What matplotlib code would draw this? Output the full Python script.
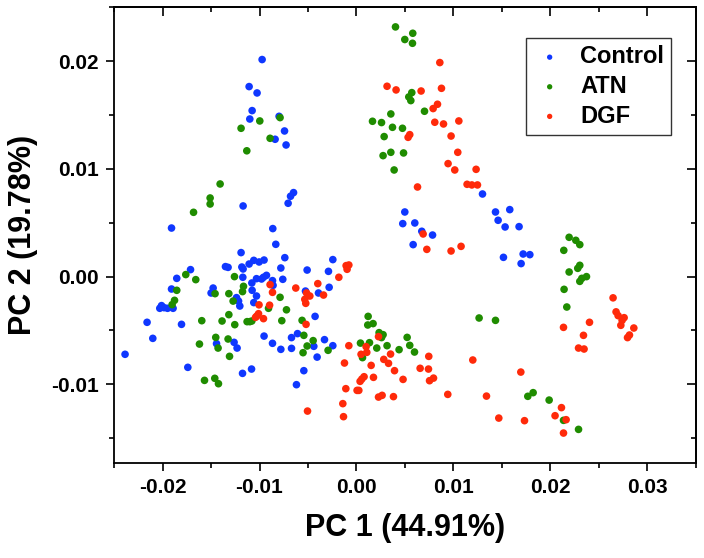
import matplotlib
matplotlib.use("Agg")
import matplotlib.pyplot as plt
from matplotlib.ticker import MultipleLocator, FormatStrFormatter

plt.rcParams['font.family'] = ['Liberation Sans', 'DejaVu Sans']
plt.rcParams['font.weight'] = 'bold'
plt.rcParams['axes.unicode_minus'] = False

series_names = ["Control", "ATN", "DGF"]
series_colors = ["#0f37ff", "#1f8c00", "#ff2a0a"]

control_x = [-0.00973, -0.01107, -0.01025, -0.01076, -0.01100, -0.00798, -0.00742, -0.00839, -0.00726, -0.01169,
             -0.01907, -0.00705, -0.00680, -0.00649, -0.00863, -0.00832, -0.01190, -0.00739, -0.01059, -0.01004,
             -0.00953, -0.01107, -0.01351, -0.01324, -0.01711, -0.01182, -0.01169, -0.00780, -0.00509, -0.00928,
             -0.01172, -0.01031, -0.00979, -0.00959, -0.00866, -0.00760, -0.01853, -0.01079, -0.01907, -0.01478,
             -0.01499, -0.01076, -0.00526, -0.01031, -0.01237, -0.01216, -0.01059, -0.00860, -0.01203, -0.02010,
             -0.01984, -0.02028, -0.01948, -0.01891, -0.02159, -0.01804, -0.02100, -0.02386, -0.01739, -0.01443,
             -0.01262, -0.01231, -0.01175, -0.01082, -0.00953, -0.00866, -0.00780, -0.00670, -0.00608, -0.00670,
             -0.00543, -0.00619, -0.00427, -0.00440, -0.00330, -0.00244, -0.00406, 0.01299, 0.00498, 0.00477,
             0.00601, 0.00673, 0.00784, 0.00584, 0.01433, 0.01460, -0.00244, -0.00289, -0.00282, -0.00392,
             0.01580, 0.01532, 0.01676, 0.01515, 0.01718, 0.01787, 0.01697]
control_y = [0.02015, 0.01764, 0.01705, 0.01541, 0.01463, 0.01488, 0.01352, 0.01275, 0.01222, 0.00656,
             0.00451, 0.00681, 0.00746, 0.00780, 0.00446, 0.00300, 0.00223, 0.00176, 0.00151, 0.00136,
             0.00154, 0.00117, 0.00093, 0.00086, 0.00065, 0.00089, 0.00071, 0.00080, 0.00061, 0.00012,
             -0.00006, -0.00019, -0.00022, -0.00006, -0.00037, -0.00025, -0.00016, -0.00059, -0.00115, -0.00106,
             -0.00152, -0.00127, -0.00134, -0.00180, -0.00195, -0.00227, -0.00241, -0.00081, -0.00273, -0.00269,
             -0.00288, -0.00294, -0.00294, -0.00294, -0.00424, -0.00443, -0.00573, -0.00721, -0.00842, -0.00622,
             -0.00610, -0.00663, -0.00898, -0.00858, -0.00552, -0.00619, -0.00675, -0.00566, -0.00529, -0.00666,
             -0.00873, -0.01003, -0.00369, -0.00647, -0.00585, -0.00641, -0.00747, 0.00767, 0.00600, 0.00492,
             0.00498, 0.00421, 0.00386, 0.00297, 0.00600, 0.00523, 0.00158, 0.00049, -0.00099, -0.00152,
             0.00622, 0.00461, 0.00464, 0.00179, 0.00210, 0.00204, 0.00121]

atn_x = [0.00402, 0.00580, 0.00498, 0.00577, 0.00570, 0.00539, 0.00560, 0.00701, 0.00354, 0.00165,
         0.00258, 0.00371, 0.00474, 0.00285, 0.00274, 0.00354, 0.00485, 0.00388, -0.00788, -0.00997,
         -0.01190, -0.00891, -0.01131, -0.01406, -0.01509, -0.01509, -0.01680, -0.01760, -0.01657, -0.01258,
         -0.01853, -0.01458, -0.01316, -0.01165, -0.01175, -0.00788, -0.01272, -0.01876, -0.01901, -0.00907,
         -0.00722, -0.01595, -0.01386, -0.01316, -0.01255, -0.01128, -0.01100, -0.01079, -0.00770, -0.00561,
         -0.00543, -0.00509, -0.00551, -0.01619, -0.01451, -0.01427, -0.01324, -0.01309, -0.01567, -0.01461,
         -0.01423,
         -0.00447, -0.00293, 0.00120, 0.00116, 0.00171, 0.00233, 0.00274, 0.00258, 0.00041, 0.00134,
         0.00315, 0.00209, 0.00062, 0.00522, 0.00549, 0.00439, 0.00598, 0.01264, 0.01433, 0.02192,
         0.02261, 0.02302, 0.02137, 0.02302, 0.02281, 0.02192, 0.02371, 0.02323, 0.02302, 0.02140,
         0.02168, 0.01766, 0.01821, 0.01986, 0.02134, 0.02289]
atn_y = [0.02318, 0.02259, 0.02201, 0.02166, 0.01708, 0.01668, 0.01634, 0.01535, 0.01510, 0.01442,
         0.01430, 0.01386, 0.01377, 0.01300, 0.01123, 0.01154, 0.01148, 0.00990, 0.01476, 0.01445,
         0.01377, 0.01284, 0.01168, 0.00860, 0.00730, 0.00674, 0.00597, 0.00019, -0.00028, 0.00000,
         -0.00127, -0.00158, -0.00158, -0.00090, -0.00139, -0.00192, -0.00227, -0.00220, -0.00260, -0.00294,
         -0.00308, -0.00409, -0.00412, -0.00353, -0.00446, -0.00418, -0.00418, -0.00412, -0.00409, -0.00406,
         -0.00545, -0.00644, -0.00706, -0.00626, -0.00564, -0.00663, -0.00579, -0.00740, -0.00963, -0.00944,
         -0.00994,
         -0.00594, -0.00684, -0.00369, -0.00449, -0.00436, -0.00520, -0.00539, -0.00566, -0.00617, -0.00613,
         -0.00641, -0.00663, -0.00752, -0.00564, -0.00638, -0.00678, -0.00700, -0.00384, -0.00406, 0.00365,
         0.00337, 0.00297, 0.00244, 0.00105, 0.00077, 0.00043, 0.00000, -0.00016, -0.00044, -0.00118,
         -0.00282, -0.01111, -0.01077, -0.01146, -0.01334, -0.01418]

dgf_x = [0.00859, 0.00315, 0.00408, 0.00666, 0.00876, 0.00835, 0.00790, 0.00807, 0.00897, 0.01055,
         0.00549, 0.00532, 0.00975, 0.01044, 0.00944, 0.01013, 0.01233, 0.00629, 0.01140, 0.01189,
         0.01247, 0.00687, 0.00725, 0.00975, 0.01078, -0.00107, -0.00079, -0.00097, -0.00182, -0.00399,
         -0.00340, -0.00515, -0.00481, -0.00533, -0.00523, -0.00891, -0.00866, -0.00626, -0.01005, -0.00896,
         -0.01010, -0.01028, -0.01041, -0.00959, -0.00520, -0.00505, -0.00079, -0.00124, 0.00099, 0.00047,
         0.00106, 0.00227, 0.00351, 0.00281, 0.00330, 0.00151, 0.00392, 0.00175, 0.00078, 0.00037,
         0.00055, 0.00480, 0.00656, 0.00745, 0.00742, 0.00753, 0.00794, -0.00110, 0.00006, 0.00024,
         0.00227, 0.00264, 0.00381, 0.00941, 0.01199, 0.01340, 0.01467, -0.00141, -0.00134, 0.02645,
         0.02676, 0.02697, 0.02759, 0.02738, 0.02725, 0.02859, 0.02814, 0.02794, 0.02134, 0.02402,
         0.02340, 0.02289, 0.02346, 0.01694, 0.02113, 0.02047, 0.02161, 0.02134, 0.01732]
dgf_y = [0.01987, 0.01767, 0.01733, 0.01723, 0.01748, 0.01600, 0.01560, 0.01433, 0.01417, 0.01445,
         0.01318, 0.01293, 0.01305, 0.01154, 0.01049, 0.00990, 0.00996, 0.00832, 0.00857, 0.00851,
         0.00851, 0.00396, 0.00253, 0.00238, 0.00281, 0.00102, 0.00108, 0.00068, -0.00006, -0.00065,
         -0.00171, -0.00152, -0.00180, -0.00211, -0.00248, -0.00074, -0.00146, -0.00106, -0.00262, -0.00265,
         -0.00344, -0.00366, -0.00378, -0.00390, -0.00443, -0.01248, -0.00641, -0.00802, -0.00650, -0.00721,
         -0.00703, -0.00557, -0.00719, -0.00768, -0.00805, -0.00824, -0.00873, -0.00935, -0.00929, -0.00972,
         -0.00951, -0.00954, -0.00851, -0.00740, -0.00858, -0.00966, -0.00942, -0.01040, -0.01056, -0.01056,
         -0.01118, -0.01102, -0.01114, -0.01093, -0.00774, -0.01109, -0.01313, -0.01179, -0.01300, -0.00197,
         -0.00327, -0.00362, -0.00381, -0.00406, -0.00452, -0.00477, -0.00542, -0.00566, -0.00471, -0.00424,
         -0.00545, -0.00663, -0.00672, -0.00886, -0.01216, -0.01291, -0.01328, -0.01452, -0.01337]

x_label = "PC 1 (44.91%)"
y_label = "PC 2 (19.78%)"

fig = plt.figure(figsize=(7.04, 5.58), dpi=100)
ax = fig.add_axes([114 / 704, 1 - 463 / 558, 582 / 704, (463 - 7.3) / 558])

data = [(control_x, control_y), (atn_x, atn_y), (dgf_x, dgf_y)]
for (xs, ys), name, col in zip(data, series_names, series_colors):
    ax.scatter(xs, ys, s=30, color=col, edgecolors='none', label=name, zorder=3)

ax.set_xlim(-0.025, 0.035)
ax.set_ylim(-0.0173, 0.025)

for a in (ax.xaxis, ax.yaxis):
    a.set_major_locator(MultipleLocator(0.01))
    a.set_minor_locator(MultipleLocator(0.005))
    a.set_major_formatter(FormatStrFormatter('%.2f'))

ax.tick_params(which='major', direction='out', length=6, width=1.2, labelsize=15, pad=5)
ax.tick_params(which='minor', direction='out', length=3.5, width=1.2)
for lab in ax.get_xticklabels() + ax.get_yticklabels():
    lab.set_fontweight('bold')

for sp in ax.spines.values():
    sp.set_linewidth(1.3)

# inward ticks on top and right
top = ax.secondary_xaxis('top')
top.xaxis.set_major_locator(MultipleLocator(0.01))
top.xaxis.set_minor_locator(MultipleLocator(0.005))
top.tick_params(which='major', direction='in', length=6.5, width=1.2, labeltop=False)
top.tick_params(which='minor', direction='in', length=3.5, width=1.2)
top.spines['top'].set_linewidth(1.3)
right = ax.secondary_yaxis('right')
right.yaxis.set_major_locator(MultipleLocator(0.01))
right.yaxis.set_minor_locator(MultipleLocator(0.005))
right.tick_params(which='major', direction='in', length=6.5, width=1.2, labelright=False)
right.tick_params(which='minor', direction='in', length=3.5, width=1.2)
right.spines['right'].set_linewidth(1.3)

ax.set_xlabel(x_label, fontsize=22, fontweight='bold')
ax.set_ylabel(y_label, fontsize=22, fontweight='bold')
ax.xaxis.set_label_coords(0.5, -0.11)
ax.yaxis.set_label_coords(-0.13, 0.5)

leg = ax.legend(loc='upper left', bbox_to_anchor=(0.708, 0.932), borderaxespad=0,
                markerscale=0.7, handlelength=1.4, handletextpad=0.6,
                borderpad=0.3, labelspacing=0.28, frameon=True, fancybox=False,
                scatterpoints=1, prop={'weight': 'bold', 'size': 17})
leg.get_frame().set_edgecolor('black')
leg.get_frame().set_linewidth(1.0)

fig.savefig("out.png", dpi=100)
